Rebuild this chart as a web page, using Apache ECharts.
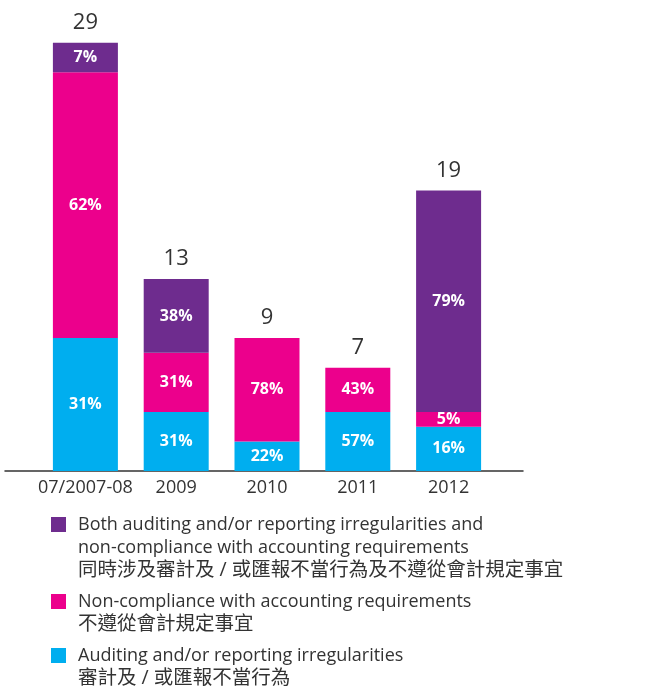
<!DOCTYPE html>
<html>
<head>
<meta charset="utf-8">
<script src="https://cdn.jsdelivr.net/npm/echarts@6/dist/echarts.min.js"></script>
<style>
  html, body { margin: 0; padding: 0; background: #fff; }
  #chart { width: 649px; height: 687px; }
</style>
</head>
<body>
<div id="chart"></div>
<script>
// categories + values (counts per year, % shown inside)
const categories = ['07/2007-08', '2009', '2010', '2011', '2012']
const totals = [29, 13, 9, 7, 19]
const auditCounts = [9, 4, 2, 4, 3]
const nonCompCounts = [18, 4, 7, 3, 1]
const bothCounts = [2, 5, 0, 0, 15]
const auditPct = [31, 31, 22, 57, 16]
const nonCompPct = [62, 31, 78, 43, 5]
const bothPct = [7, 38, null, null, 79]

const FONT = "'Open Sans', 'Noto Sans CJK TC', sans-serif"

const names = {
  both: 'Both auditing and/or reporting irregularities and non-compliance with accounting requirements',
  nonComp: 'Non-compliance with accounting requirements',
  audit: 'Auditing and/or reporting irregularities'
}
// legend text is vertically centred on the icon by echarts,
// so pad with blank lines above to put the icon on the first line
const legendText = {}
legendText[names.both] = '\n\n{en|Both auditing and/or reporting irregularities and}\n{en|non-compliance with accounting requirements}\n{zh|同時涉及審計及 / 或匯報不當行為及不遵從會計規定事宜}'
legendText[names.nonComp] = '\n{en|Non-compliance with accounting requirements}\n{zh|不遵從會計規定事宜}'
legendText[names.audit] = '\n{en|Auditing and/or reporting irregularities}\n{zh|審計及 / 或匯報不當行為}'

function segment(name, counts, pct, color) {
  return {
    name: name,
    type: 'bar',
    stack: 'total',
    barWidth: 65,
    itemStyle: { color: color },
    label: {
      show: true,
      position: 'inside',
      color: '#fff',
      fontFamily: FONT,
      fontWeight: 'bold',
      fontSize: 16,
      formatter: p => pct[p.dataIndex] == null ? '' : pct[p.dataIndex] + '%'
    },
    data: counts
  }
}

let chart = echarts.init(document.getElementById('chart'))
chart.setOption({
  animation: false,
  textStyle: { fontFamily: FONT },
  grid: [
    { left: 40, width: 454, top: 28, bottom: 216 },
    { left: 5, right: 126, top: 28, bottom: 216 }
  ],
  xAxis: [
    {
      type: 'category',
      gridIndex: 0,
      data: categories,
      axisLine: { show: false },
      axisTick: { show: false },
      axisLabel: { color: '#333', fontSize: 18, margin: 8, interval: 0, fontFamily: FONT }
    },
    {
      type: 'value',
      gridIndex: 1,
      min: 0, max: 1,
      axisLine: { show: true, lineStyle: { color: '#333', width: 1.5 } },
      axisTick: { show: false },
      axisLabel: { show: false },
      splitLine: { show: false }
    }
  ],
  yAxis: [
    { type: 'value', gridIndex: 0, min: 0, max: 30, show: false },
    { type: 'value', gridIndex: 1, min: 0, max: 1, show: false }
  ],
  legend: {
    orient: 'vertical',
    left: 51,
    top: 467,
    padding: 0,
    itemGap: -15,
    itemWidth: 15,
    itemHeight: 15,
    icon: 'rect',
    selectedMode: false,
    formatter: name => legendText[name],
    textStyle: {
      color: '#333', fontSize: 18, lineHeight: 23, fontFamily: FONT,
      padding: [0, 0, 0, 7],
      rich: {
        en: { color: '#333', fontSize: 18, lineHeight: 23, fontFamily: FONT },
        zh: { color: '#333', fontSize: 19.5, lineHeight: 23, fontFamily: FONT }
      }
    },
    data: [names.both, names.nonComp, names.audit]
  },
  series: [
    segment(names.audit, auditCounts, auditPct, '#00AEEF'),
    segment(names.nonComp, nonCompCounts, nonCompPct, '#EC008C'),
    segment(names.both, bothCounts, bothPct, '#6E2C8E'),
    {
      name: 'total',
      type: 'bar',
      stack: 'total',
      barWidth: 65,
      itemStyle: { color: 'transparent' },
      label: {
        show: true,
        position: 'top',
        distance: 9,
        color: '#333',
        fontSize: 22,
        fontFamily: FONT,
        formatter: p => String(totals[p.dataIndex])
      },
      data: totals.map(() => 0)
    }
  ]
})
</script>
</body>
</html>
